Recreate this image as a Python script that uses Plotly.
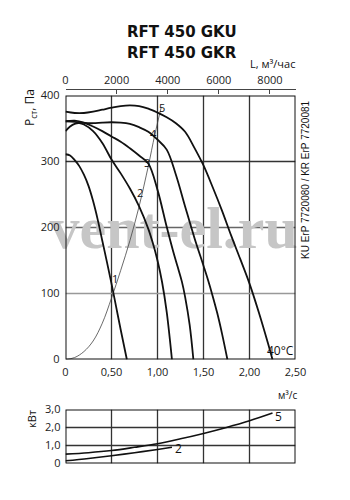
import plotly.graph_objects as go

# ---- data (Q in m3/s, P in Pa) ----
q1 = [0, 0.05, 0.1, 0.15, 0.2, 0.25, 0.3, 0.35, 0.4, 0.45, 0.5, 0.55, 0.6, 0.667]
p1 = [311, 309, 302, 293, 280, 263, 240, 212, 180, 148, 115, 80, 45, 0]

q2 = [0, 0.05, 0.1, 0.15, 0.2, 0.3, 0.4, 0.5, 0.6, 0.7, 0.8, 0.9, 0.95, 1.0, 1.05, 1.1, 1.157]
p2 = [346, 353, 357, 358, 356, 346, 328, 303, 282, 259, 232, 198, 176, 150, 117, 72, 0]

q3 = [0, 0.1, 0.2, 0.3, 0.4, 0.5, 0.6, 0.7, 0.8, 0.9, 1.0, 1.1, 1.17, 1.22, 1.265, 1.3, 1.35, 1.39]
p3 = [361, 362, 359, 353, 346, 338, 330, 320, 309, 297, 257, 201, 164, 140, 118, 95, 52, 0]

q4 = [0, 0.1, 0.2, 0.3, 0.4, 0.5, 0.6, 0.7, 0.8, 0.9, 1.0, 1.1, 1.2, 1.3, 1.4, 1.5, 1.55, 1.6, 1.65, 1.7, 1.76]
p4 = [361, 360, 358.5, 358, 359, 359.5, 359, 357, 352, 345, 333, 318, 280, 232, 185, 142, 120, 96, 70, 40, 0]

q5 = [0, 0.1, 0.2, 0.3, 0.4, 0.5, 0.6, 0.7, 0.8, 0.9, 1.0, 1.1, 1.2, 1.3, 1.4, 1.5, 1.6, 1.7, 1.8, 1.9, 2.0, 2.1, 2.2, 2.25]
p5 = [375.5, 373.5, 373.5, 375.5, 378.5, 381.5, 384, 385, 384, 380, 374, 367, 358, 345, 321, 294, 261, 226, 188, 152, 115, 72, 25, 0]

# system (thin) curve
qs = [0, 0.1, 0.2, 0.3, 0.4, 0.5, 0.6, 0.7, 0.8, 0.9, 0.97, 1.04]
ps = [0, 3, 12, 28, 55, 93, 135, 180, 232, 293, 340, 382]

# power curves (kW)
qw5 = [0, 0.25, 0.5, 0.75, 1.0, 1.25, 1.5, 1.75, 2.0, 2.25]
w5 = [0.52, 0.6, 0.72, 0.9, 1.1, 1.37, 1.67, 2.0, 2.37, 2.8]
qw2 = [0, 0.25, 0.5, 0.75, 1.0, 1.157]
w2 = [0.15, 0.28, 0.43, 0.6, 0.78, 0.9]

curve_labels = ["1", "2", "3", "4", "5"]
label_q = [0.54, 0.812, 0.885, 0.957, 1.048]
label_p = [122, 253, 299, 342, 382]

x_ticks = [0, 0.5, 1.0, 1.5, 2.0, 2.5]
x_ticktext = ["0", "0,50", "1,00", "1,50", "2,00", "2,50"]
top_ticks = [0, 2000, 4000, 6000, 8000]
top_ticktext = ["0", "2000", "4000", "6000", "8000"]
y_ticks = [0, 100, 200, 300, 400]
w_ticks = [0, 1, 2, 3]
w_ticktext = ["0", "1,0", "2,0", "3,0"]

W, H = 350, 500
def px_x(p): return p / W
def px_y(p): return 1 - p / H

# pixel-aligned plot edges (lines land on pixel centres)
XDOM = [px_x(65.5), px_x(295.5)]
TICKFONT = dict(family="Open Sans", size=11, color="#222")

fig = go.Figure()

def seg(x, y, color, width, xa, ya):
    fig.add_trace(go.Scatter(x=x, y=y, mode="lines", line=dict(color=color, width=width),
                             hoverinfo="skip", showlegend=False, xaxis=xa, yaxis=ya, cliponaxis=False))

# grid lines (main)
for v in x_ticks[1:-1]:
    seg([v, v], [y_ticks[0], y_ticks[-1]], "#333333", 1.3, "x", "y")
for v, c in zip(y_ticks[1:-1], ["#999999", "#666666", "#333333"]):
    seg([x_ticks[0], x_ticks[-1]], [v, v], c, 1.3, "x", "y")
# grid lines (power)
for v in x_ticks[1:-1]:
    seg([v, v], [w_ticks[0], w_ticks[-1]], "#333333", 1.3, "x3", "y3")
for v in w_ticks[1:-1]:
    seg([x_ticks[0], x_ticks[-1]], [v, v], "#333333", 1.3, "x3", "y3")

# watermark (beneath curves)
fig.add_trace(go.Scatter(x=[1.176], y=[192], mode="text", text=["vent-el.ru"],
                         textfont=dict(family="Liberation Serif", size=60, color="#c6c6c6", weight="bold"),
                         cliponaxis=False, hoverinfo="skip", showlegend=False,
                         xaxis="x", yaxis="y"))

fig.add_trace(go.Scatter(x=qs, y=ps, mode="lines", line=dict(color="#444", width=0.8, shape="spline"),
                         showlegend=False, xaxis="x", yaxis="y"))
for q, p in [(q1, p1), (q2, p2), (q3, p3), (q4, p4), (q5, p5)]:
    fig.add_trace(go.Scatter(x=q, y=p, mode="lines", line=dict(color="#111", width=1.8, shape="spline"),
                             showlegend=False, xaxis="x", yaxis="y"))

# frames
X0, X1 = x_ticks[0], x_ticks[-1]
seg([X0, X1, X1, X0, X0], [y_ticks[0], y_ticks[0], y_ticks[-1], y_ticks[-1], y_ticks[0]], "#111111", 2, "x", "y")
seg([X0, X1, X1, X0, X0], [w_ticks[0], w_ticks[0], w_ticks[-1], w_ticks[-1], w_ticks[0]], "#111111", 2, "x3", "y3")

# dummy trace for top axis
fig.add_trace(go.Scatter(x=[0, 9000], y=[None, None], mode="lines", showlegend=False,
                         xaxis="x2", yaxis="y"))

for q, w in [(qw5, w5), (qw2, w2)]:
    fig.add_trace(go.Scatter(x=q, y=w, mode="lines", line=dict(color="#111", width=1.6, shape="spline"),
                             showlegend=False, xaxis="x3", yaxis="y3"))

def ann(x, y, text, size=11, xref="paper", yref="paper", xanchor="center", angle=0, family="Open Sans"):
    return dict(x=x, y=y, xref=xref, yref=yref, text=text, showarrow=False,
                xanchor=xanchor, yanchor="middle", textangle=angle,
                font=dict(family=family, size=size, color="#111"))

annotations = []
for t, q, p in zip(curve_labels, label_q, label_p):
    annotations.append(ann(q, p, t, 11, "x", "y"))
annotations += [
    ann(0.52, px_y(32), "<b>RFT 450 GKU</b>", 15, family="DejaVu Sans"),
    ann(0.52, px_y(53), "<b>RFT 450 GKR</b>", 15, family="DejaVu Sans"),
    ann(px_x(297), px_y(63), "L, м³/час", 11, xanchor="right"),
    ann(px_x(30), px_y(108), "P<sub>ст</sub>, Па", 12, angle=-90),
    ann(px_x(31), px_y(419), "кВт", 11, angle=-90),
    ann(px_x(287), px_y(395), "м³/с", 10),
    ann(2.5, 13, "40°C", 12, "x", "y", xanchor="right"),
    ann(px_x(305), px_y(180), "KU ErP 7720080 / KR ErP 7720081", 10, angle=-90, family="Liberation Sans"),
    ann(2.315, 2.59, "5", 12, "x3", "y3"),
    ann(1.233, 0.83, "2", 12, "x3", "y3"),
]

fig.update_layout(
    template="none",
    width=W, height=H, margin=dict(l=0, r=0, t=0, b=0, autoexpand=False),
    paper_bgcolor="white", plot_bgcolor="white", showlegend=False,
    annotations=annotations,
    xaxis=dict(domain=XDOM, range=[0, 2.5], anchor="y", tickvals=x_ticks, ticktext=x_ticktext,
               showgrid=False, zeroline=False, showline=False, ticks="",
               ticklabelstandoff=4, tickfont=TICKFONT, automargin=False),
    yaxis=dict(domain=[px_y(359.5), px_y(95.5)], range=[0, 400], anchor="x", tickvals=y_ticks,
               showgrid=False, zeroline=False, showline=False, ticks="",
               ticklabelstandoff=5, tickfont=TICKFONT, automargin=False),
    xaxis2=dict(overlaying="x", anchor="free", position=px_y(88.5), side="top", range=[0, 9000],
                tickvals=top_ticks, ticktext=top_ticktext, ticks="inside", ticklen=4,
                tickcolor="#444", showgrid=False, zeroline=False, showline=True,
                linecolor="#444", linewidth=1, tickfont=TICKFONT, automargin=False),
    xaxis3=dict(domain=XDOM, range=[0, 2.5], anchor="y3", showticklabels=False,
                showgrid=False, zeroline=False, showline=False, ticks="", automargin=False),
    yaxis3=dict(domain=[px_y(463.5), px_y(409.5)], range=[0, 3], anchor="x3", tickvals=w_ticks,
                ticktext=w_ticktext, showgrid=False, zeroline=False, showline=False, ticks="",
                ticklabelstandoff=4, tickfont=TICKFONT, automargin=False),
)

fig.write_html("out.html")
